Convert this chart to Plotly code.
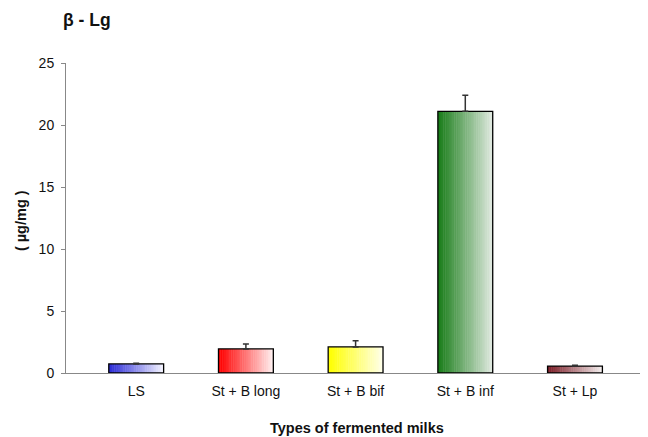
import plotly.graph_objects as go

categories = ["LS", "St + B long", "St + B bif", "St + B inf", "St + Lp"]
values = [0.73, 1.94, 2.1, 21.1, 0.56]
errors_up = [0.05, 0.4, 0.5, 1.3, 0.06]
left_colors = [(45, 45, 215), (255, 0, 0), (255, 255, 0), (25, 125, 25), (125, 30, 40)]
right_colors = [(242, 242, 255), (255, 238, 238), (255, 255, 232), (222, 232, 222), (242, 236, 236)]

W = 0.5
N = 30
font = "Liberation Sans, Arial, sans-serif"
FW, FH = 640, 429  # page has an 8px body margin

fig = go.Figure()
for i in range(N):
    t = i / (N - 1)
    cols = [
        "rgb(%d,%d,%d)" % tuple(round(l[k] + (r[k] - l[k]) * t) for k in range(3))
        for l, r in zip(left_colors, right_colors)
    ]
    w = W / N * (1.0 if i == N - 1 else 1.25)
    fig.add_trace(go.Bar(
        x=categories, y=values, width=w, offset=-W / 2 + i * W / N,
        marker=dict(color=cols, line=dict(width=0)),
        hoverinfo="skip", showlegend=False,
    ))

fig.add_trace(go.Bar(
    x=categories, y=values, width=W, offset=-W / 2,
    marker=dict(color="rgba(0,0,0,0)", line=dict(color="black", width=1.3)),
    error_y=dict(type="data", symmetric=False, array=errors_up,
                 arrayminus=[0] * len(values), color="#333", thickness=1.5, width=3),
    showlegend=False,
))

fig.update_layout(
    width=FW, height=FH,
    margin=dict(l=58, r=5, t=55, b=64),
    barmode="overlay",
    plot_bgcolor="white", paper_bgcolor="white",
    font=dict(family=font, size=14, color="#111"),
    title=dict(text="<b>β - Lg</b>", x=55 / FW, xanchor="left", xref="container",
               y=1 - 12 / FH, yanchor="middle", yref="container",
               font=dict(size=17.5, family=font, color="#111")),
    xaxis=dict(range=[-0.64, 4.62], showline=True, linecolor="#888", linewidth=1,
               ticks="", showgrid=False, tickfont=dict(size=14), ticklabelstandoff=5),
    yaxis=dict(range=[0, 25], dtick=5, showline=True, linecolor="#888", linewidth=1,
               ticks="outside", ticklen=4, tickcolor="#888", showgrid=False,
               zeroline=False, tickfont=dict(size=14), ticklabelstandoff=4),
    annotations=[
        dict(text="<b>( µg/mg )</b>", xref="paper", yref="paper",
             x=(21 - 66) / 577, y=0.49, textangle=-90, showarrow=False,
             xanchor="center", yanchor="middle", font=dict(size=14.5)),
        dict(text="<b>Types of fermented milks</b>", xref="paper", yref="paper",
             x=(357 - 66) / 577, y=(373 - 428) / 310, showarrow=False,
             xanchor="center", yanchor="middle", font=dict(size=14.5)),
    ],
)

fig.write_html("out.html")
